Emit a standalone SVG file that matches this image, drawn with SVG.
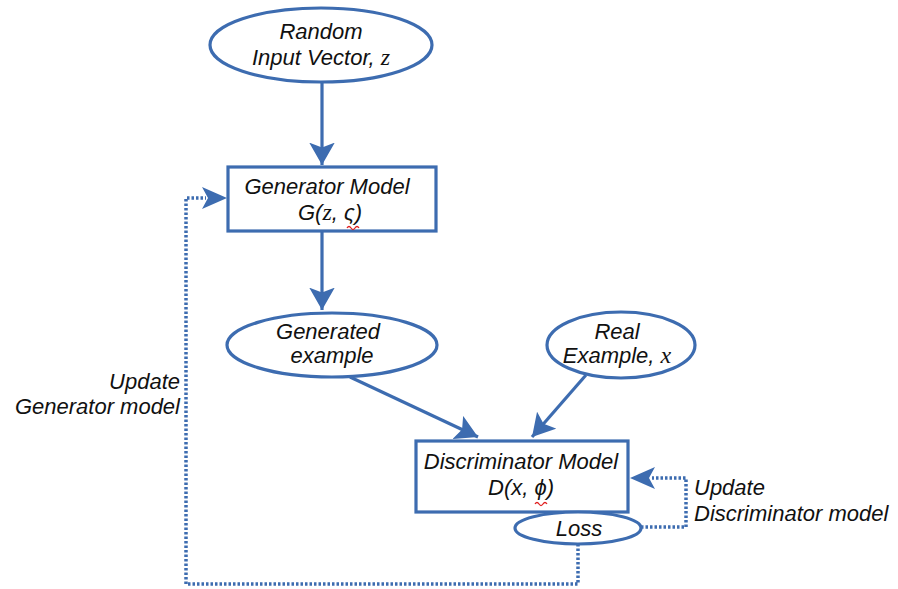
<svg xmlns="http://www.w3.org/2000/svg" width="898" height="589" viewBox="0 0 898 589">
<style>
.s{fill:#fff;stroke:#3d6cb0;stroke-width:3.2}
.c{fill:none;stroke:#3d6cb0;stroke-width:3.2}
.d{fill:none;stroke:#3d6cb0;stroke-width:3.5;stroke-dasharray:2.5 2}
.t{font-family:"Liberation Sans",Arial,sans-serif;font-style:italic;font-size:22px;fill:#111}
.m{font-family:"Liberation Serif","Times New Roman",serif;font-style:italic;font-size:24px}
.sq{fill:none;stroke:#e02020;stroke-width:1.3}
</style>
<defs>
<marker id="ah" markerWidth="8" markerHeight="8" refX="7" refY="4" orient="auto" markerUnits="strokeWidth">
<path d="M0,0 L7,4 L0,8 L1.5,4 Z" fill="#3d6cb0"/>
</marker>
</defs>
<rect width="898" height="589" fill="#fff"/>
<g id="connectors">
<line class="c" x1="322" y1="82" x2="322" y2="165" marker-end="url(#ah)"/>
<line class="c" x1="322" y1="232" x2="322" y2="310" marker-end="url(#ah)"/>
<line class="c" x1="350" y1="377" x2="478" y2="437" marker-end="url(#ah)"/>
<line class="c" x1="586" y1="375" x2="532" y2="437" marker-end="url(#ah)"/>
<path class="d" d="M641,527 H686 V478 H652"/>
<path d="M630,478 L655,467 L649,478 L655,489 Z" fill="#3d6cb0"/>
<path class="d" d="M578,544 V584 H186 V198 H206"/>
<path d="M227,198 L202,187 L208,198 L202,209 Z" fill="#3d6cb0"/>
</g>
<g id="random">
<ellipse class="s" cx="321" cy="45" rx="111" ry="37"/>
<text class="t" x="321" y="39" text-anchor="middle">Random</text>
<text class="t" x="321" y="65" text-anchor="middle">Input Vector, <tspan class="m">z</tspan></text>
</g>
<g id="generator">
<rect class="s" x="228" y="167" width="208" height="64"/>
<text class="t" x="327" y="194" text-anchor="middle">Generator Model</text>
<text class="t" x="330" y="220" text-anchor="middle">G(<tspan class="m">z</tspan>, ς)</text>
<path class="sq" d="M347,228 q2,-3 4,0 t4,0 t4,0"/>
</g>
<g id="generated">
<ellipse class="s" cx="332" cy="345" rx="105" ry="32"/>
<text class="t" x="328" y="339" text-anchor="middle">Generated</text>
<text class="t" x="332" y="363" text-anchor="middle">example</text>
</g>
<g id="real">
<ellipse class="s" cx="621" cy="345" rx="74" ry="33"/>
<text class="t" x="617" y="339" text-anchor="middle">Real</text>
<text class="t" x="617" y="363" text-anchor="middle">Example, <tspan class="m">x</tspan></text>
</g>
<g id="discriminator">
<rect class="s" x="416" y="441" width="212" height="71"/>
<text class="t" x="521" y="469" text-anchor="middle">Discriminator Model</text>
<text class="t" x="521" y="495" text-anchor="middle">D(x, ϕ)</text>
<path class="sq" d="M535,504 q2,-3 4,0 t4,0 t4,0"/>
</g>
<g id="loss">
<ellipse class="s" cx="578" cy="528" rx="63" ry="16"/>
<text class="t" x="579" y="536" text-anchor="middle">Loss</text>
</g>
<g id="labels">
<text class="t" x="180" y="389" text-anchor="end">Update</text>
<text class="t" x="180" y="414" text-anchor="end">Generator model</text>
<text class="t" x="694" y="495">Update</text>
<text class="t" x="694" y="521">Discriminator model</text>
</g>
</svg>
